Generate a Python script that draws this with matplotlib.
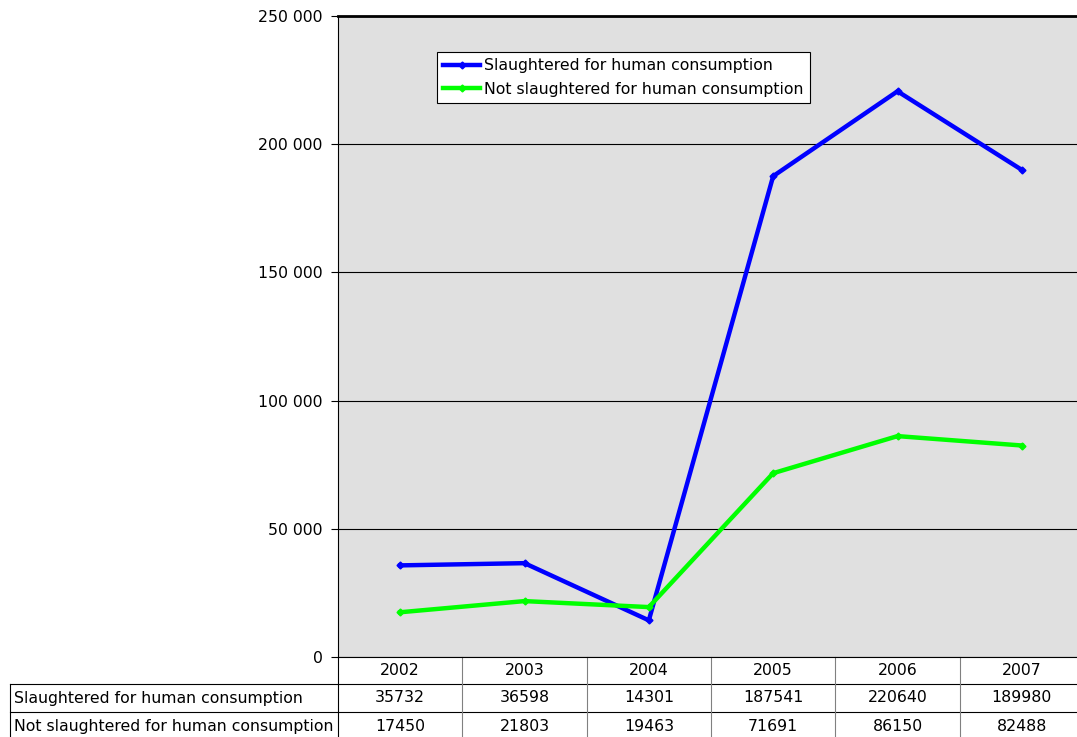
import matplotlib
matplotlib.use("Agg")
import matplotlib.pyplot as plt
from matplotlib.lines import Line2D
from matplotlib.ticker import FuncFormatter

years = ["2002", "2003", "2004", "2005", "2006", "2007"]
slaughtered = [35732, 36598, 14301, 187541, 220640, 189980]
not_slaughtered = [17450, 21803, 19463, 71691, 86150, 82488]
labels = ["Slaughtered for human consumption", "Not slaughtered for human consumption"]

W, H = 1077, 737
FS = 11.3
plt.rcParams['font.family'] = ['DejaVu Sans']
plt.rcParams['font.size'] = FS

fig = plt.figure(figsize=(W / 100, H / 100), dpi=100)
# plot area in pixels
L, R, T, B = 338, 1084, 16, 657
ax = fig.add_axes([L / W, (H - B) / H, (R - L) / W, (B - T) / H])
ax.set_facecolor('#e0e0e0')

x = list(range(len(years)))
ax.plot(x, slaughtered, color='#0000ff', lw=3.2, marker='D', ms=3.5, label=labels[0], zorder=3)
ax.plot(x, not_slaughtered, color='#00ff00', lw=3.2, marker='D', ms=3.5, label=labels[1], zorder=3)

ax.set_xlim(-0.5, len(years) - 0.5)
ax.set_ylim(0, 250000)
ax.set_yticks(range(0, 250001, 50000))
ax.yaxis.set_major_formatter(FuncFormatter(lambda v, p: f"{int(v):,}".replace(",", " ")))
ax.tick_params(axis='y', length=5, width=0.8, pad=6, labelsize=FS)
ax.set_xticks([])
ax.grid(axis='y', color='black', lw=0.8)
ax.set_axisbelow(True)
for s in ['left', 'bottom', 'right']:
    ax.spines[s].set_color('black')
    ax.spines[s].set_linewidth(0.8)
ax.spines['top'].set_linewidth(2)

leg = ax.legend(loc='upper left', bbox_to_anchor=((437 - L) / (R - L), (B - 52) / (B - T)),
                frameon=True, fancybox=False, edgecolor='black', framealpha=1,
                handlelength=2.35, handletextpad=0.25, borderpad=0.4, labelspacing=0.55,
                borderaxespad=0, fontsize=FS)
leg.get_frame().set_linewidth(0.8)

# data table under the plot, in axes coordinates
def ax_x(px):
    return (px - L) / (R - L)

def ax_y(py):
    return (B - py) / (B - T)

row_edges = [657, 684, 712, 741]
col_w = (R - L) / len(years)
lab_left = 10
lines = []
for py in row_edges[1:]:
    lines.append(([ax_x(lab_left), 1], [ax_y(py), ax_y(py)], 'black'))
lines.append(([ax_x(lab_left), ax_x(lab_left)], [ax_y(684), ax_y(741)], 'black'))
lines.append(([0, 0], [ax_y(657), ax_y(741)], 'black'))
for i in range(1, len(years)):
    xi = ax_x(L + i * col_w)
    lines.append(([xi, xi], [ax_y(657), ax_y(741)], '#808080'))
for xs, ys, c in lines:
    ax.add_line(Line2D(xs, ys, color=c, lw=0.8, transform=ax.transAxes, clip_on=False))

rows = [slaughtered, not_slaughtered]
for i, yr in enumerate(years):
    cx = ax_x(L + (i + 0.5) * col_w)
    ax.text(cx, ax_y((row_edges[0] + row_edges[1]) / 2), yr, transform=ax.transAxes,
            ha='center', va='center', clip_on=False)
    for r, vals in enumerate(rows):
        cy = ax_y((row_edges[r + 1] + row_edges[r + 2]) / 2)
        ax.text(cx, cy, str(vals[i]), transform=ax.transAxes, ha='center', va='center', clip_on=False)
for r, lab in enumerate(labels):
    cy = ax_y((row_edges[r + 1] + row_edges[r + 2]) / 2)
    ax.text(ax_x(14), cy, lab, transform=ax.transAxes, ha='left', va='center', clip_on=False)

fig.savefig('out.png', dpi=100)
